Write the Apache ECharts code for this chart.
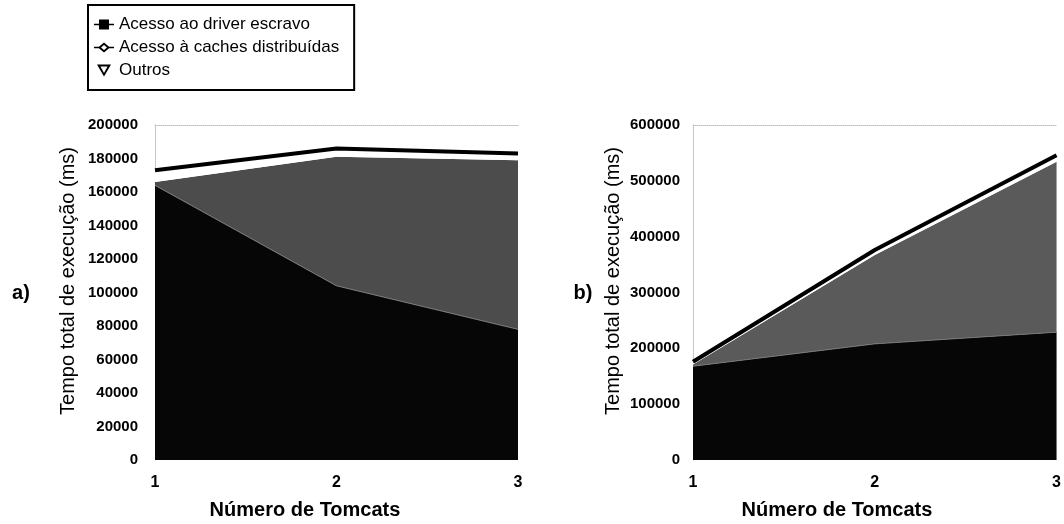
<!DOCTYPE html>
<html>
<head>
<meta charset="utf-8">
<script src="https://cdn.jsdelivr.net/npm/echarts@6/dist/echarts.min.js"></script>
<style>
  html, body { margin: 0; padding: 0; background: #fff; }
  #chart { width: 1064px; height: 524px; }
</style>
</head>
<body>
<div id="chart"></div>
<script>
// ---- data ----
const categories = ['1', '2', '3'];
const seriesNames = ['Acesso ao driver escravo', 'Acesso à caches distribuídas', 'Outros'];

// chart a)
const aDriver = [164000, 104000, 78000];
const aCaches = [2000, 77000, 101000];
const aOutros = [7000, 5000, 4000];
// chart b)
const bDriver = [168000, 208000, 229000];
const bCaches = [3000, 159000, 305000];
const bOutros = [5000, 9000, 12000];

const aYMax = 200000, aYInterval = 20000;
const bYMax = 600000, bYInterval = 100000;

const yTitle = 'Tempo total de execução (ms)';
const xTitle = 'Número de Tomcats';

// ---- chart ----
const FONT = '"Liberation Sans", Arial, sans-serif';
const chart = echarts.init(document.getElementById('chart'), null, { renderer: 'canvas' });

function bottomX(gridIndex) {
  return {
    type: 'category', gridIndex, data: categories, boundaryGap: false,
    axisLine: { show: false }, axisTick: { show: false },
    axisLabel: { color: '#000', fontFamily: FONT, fontWeight: 'bold', fontSize: 16, margin: 15 }
  };
}
function topX(gridIndex) {
  return {
    type: 'category', gridIndex, data: categories, boundaryGap: false, position: 'top',
    axisLine: { show: true, lineStyle: { color: '#bbb', type: 'dotted', width: 1 } },
    axisTick: { show: false }, axisLabel: { show: false }
  };
}
function yAx(gridIndex, max, interval, margin) {
  return {
    type: 'value', gridIndex, min: 0, max, interval,
    axisLine: { show: true, lineStyle: { color: '#bbb', type: 'dotted', width: 1 } },
    axisTick: { show: false }, splitLine: { show: false },
    axisLabel: { color: '#000', fontFamily: FONT, fontWeight: 'bold', fontSize: 15, margin,
                 formatter: v => String(v) }
  };
}
function mkSeries(xi, yi, stack, driver, caches, outros, cachesColor) {
  return [
    {
      name: seriesNames[0], type: 'line', xAxisIndex: xi, yAxisIndex: yi, stack,
      data: driver, showSymbol: false, symbol: 'none',
      lineStyle: { color: '#777', width: 1 },
      itemStyle: { color: '#000' },
      areaStyle: { color: '#060606', opacity: 1 }
    },
    {
      name: seriesNames[1], type: 'line', xAxisIndex: xi, yAxisIndex: yi, stack,
      data: caches, showSymbol: false, symbol: 'none',
      lineStyle: { color: cachesColor, width: 0 },
      itemStyle: { color: '#000' },
      areaStyle: { color: cachesColor, opacity: 1 }
    },
    {
      name: seriesNames[2], type: 'line', xAxisIndex: xi, yAxisIndex: yi, stack,
      data: outros, showSymbol: false, symbol: 'none',
      lineStyle: { color: '#000', width: 4 },
      itemStyle: { color: '#000' },
      areaStyle: { color: '#fff', opacity: 1 },
      z: 3
    }
  ];
}

const iconDriver = 'path://M0,5.3 H20 V6.7 H0 Z M5,1 H15 V11 H5 Z';
const iconCaches = 'path://M0,5.3 H5 V6.7 H0 Z M15,5.3 H20 V6.7 H15 Z M10,1 L16,6 L10,11 L4,6 Z M10,3.6 L7,6 L10,8.4 L13,6 Z';
const iconOutros = 'path://M3,0 H17 L10,12 Z M6.5,2 L10,8.5 L13.5,2 Z';

const option = {
  animation: false,
  backgroundColor: '#fff',
  textStyle: { fontFamily: FONT },
  legend: {
    orient: 'vertical', left: 88, top: 5,
    borderColor: '#000', borderWidth: 2,
    padding: [11, 15, 11, 6],
    itemGap: 6, itemWidth: 20, itemHeight: 12,
    textStyle: { color: '#000', fontFamily: FONT, fontSize: 17, lineHeight: 16 },
    data: [
      { name: seriesNames[0], icon: iconDriver, itemStyle: { color: '#000' } },
      { name: seriesNames[1], icon: iconCaches, itemStyle: { color: '#000' } },
      { name: seriesNames[2], icon: iconOutros, itemStyle: { color: '#000' } }
    ],
    selectedMode: false
  },
  grid: [
    { left: 155, right: 1064 - 518, top: 125, bottom: 524 - 460 },
    { left: 693, right: 1064 - 1057, top: 125, bottom: 524 - 460 }
  ],
  xAxis: [bottomX(0), topX(0), bottomX(1), topX(1)],
  yAxis: [yAx(0, aYMax, aYInterval, 17), yAx(1, bYMax, bYInterval, 13)],
  series: [
    ...mkSeries(0, 0, 'a', aDriver, aCaches, aOutros, '#4c4c4c'),
    ...mkSeries(2, 1, 'b', bDriver, bCaches, bOutros, '#5a5a5a')
  ],
  graphic: [
    { type: 'text', x: 68, y: 281, rotation: Math.PI / 2,
      style: { text: yTitle, font: '20px ' + FONT, fill: '#000', textAlign: 'center', textVerticalAlign: 'middle' } },
    { type: 'text', x: 613, y: 281, rotation: Math.PI / 2,
      style: { text: yTitle, font: '20px ' + FONT, fill: '#000', textAlign: 'center', textVerticalAlign: 'middle' } },
    { type: 'text', x: 305, y: 510,
      style: { text: xTitle, font: 'bold 20px ' + FONT, fill: '#000', textAlign: 'center', textVerticalAlign: 'middle' } },
    { type: 'text', x: 837, y: 510,
      style: { text: xTitle, font: 'bold 20px ' + FONT, fill: '#000', textAlign: 'center', textVerticalAlign: 'middle' } },
    { type: 'text', x: 21, y: 293,
      style: { text: 'a)', font: 'bold 20px ' + FONT, fill: '#000', textAlign: 'center', textVerticalAlign: 'middle' } },
    { type: 'text', x: 583, y: 293,
      style: { text: 'b)', font: 'bold 20px ' + FONT, fill: '#000', textAlign: 'center', textVerticalAlign: 'middle' } }
  ]
};
chart.setOption(option);
</script>
</body>
</html>
